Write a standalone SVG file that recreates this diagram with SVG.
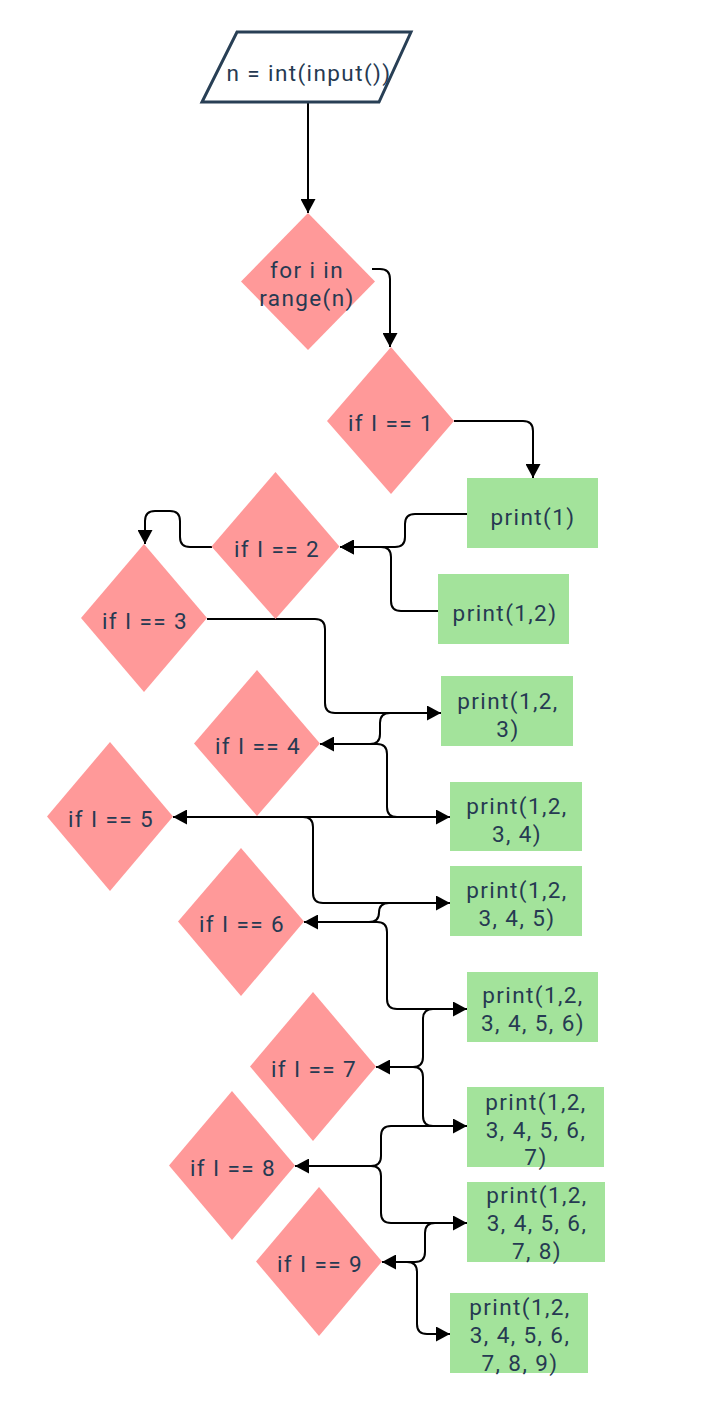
<svg xmlns="http://www.w3.org/2000/svg" width="714" height="1408" viewBox="0 0 714 1408">
  <style>
    .t { font-family: Roboto, "Liberation Sans", sans-serif; font-size: 22.5px; fill: #263a52; text-anchor: middle; letter-spacing: 1.4px; }
    .dia { fill: #ff9999; }
    .box { fill: #a3e39b; }
    .io { fill: #ffffff; stroke: #283f55; stroke-width: 3; stroke-linejoin: miter; }
    .c { fill: none; stroke: #000000; stroke-width: 2; marker-end: url(#arr); }
  </style>
  <defs>
    <marker id="arr" markerUnits="userSpaceOnUse" markerWidth="15" markerHeight="15" refX="14" refY="7.5" orient="auto">
      <path d="M0,0 L14,7.5 L0,15 Z" fill="#000000"/>
    </marker>
  </defs>
  <rect x="0" y="0" width="714" height="1408" fill="#ffffff"/>

  <g id="connectors">
    <path class="c" d="M308,103 V213"/>
    <path class="c" d="M372,269 H380 Q390,269 390,279 V347"/>
    <path class="c" d="M454,421 H523 Q533,421 533,431 V478"/>
    <path class="c" d="M467,514 H415 Q405,514 405,524 V537 Q405,547 395,547 H340"/>
    <path class="c" d="M438,611 H401 Q391,611 391,601 V557 Q391,547 381,547 H340"/>
    <path class="c" d="M212,547 H190 Q180,547 180,537 V521 Q180,511 170,511 H155 Q145,511 145,521 V544"/>
    <path class="c" d="M207,619 H315 Q325,619 325,629 V703 Q325,713 335,713 H441"/>
    <path class="c" d="M441,713 H390 Q380,713 380,723 V734 Q380,744 370,744 H320"/>
    <path class="c" d="M320,744 H377 Q387,744 387,754 V807 Q387,817 397,817 H450"/>
    <path class="c" d="M450,817 H173"/>
    <path class="c" d="M173,817 H303 Q313,817 313,827 V893 Q313,903 323,903 H450"/>
    <path class="c" d="M450,903 H389 Q379,903 379,912.5 Q379,922 369,922 H304"/>
    <path class="c" d="M304,922 H377 Q387,922 387,932 V999 Q387,1009 397,1009 H467"/>
    <path class="c" d="M467,1009 H433 Q423,1009 423,1019 V1057 Q423,1067 413,1067 H376"/>
    <path class="c" d="M376,1067 H413 Q423,1067 423,1077 V1116 Q423,1126 433,1126 H467"/>
    <path class="c" d="M467,1126 H391 Q381,1126 381,1136 V1156 Q381,1166 371,1166 H295"/>
    <path class="c" d="M295,1166 H371 Q381,1166 381,1176 V1213 Q381,1223 391,1223 H467"/>
    <path class="c" d="M467,1223 H435 Q425,1223 425,1233 V1252 Q425,1262 415,1262 H382"/>
    <path class="c" d="M382,1262 H407 Q417,1262 417,1272 V1324 Q417,1334 427,1334 H450"/>
  </g>

  <g id="input">
    <polygon class="io" points="237,32 411,32 379,102 202,102"/>
    <text class="t" x="309" y="81">n = int(input())</text>
  </g>

  <g id="for_loop">
    <polygon class="dia" points="308,213 375,281.5 308,350 241,281.5"/>
    <text class="t" x="307" y="278">for i in</text>
    <text class="t" x="307" y="306">range(n)</text>
  </g>

  <g id="if1">
    <polygon class="dia" points="391,347 454,421 391,494 327,421"/>
    <text class="t" x="391" y="431">if I == 1</text>
  </g>
  <g id="if2">
    <polygon class="dia" points="275.5,472 339.5,546.5 275.5,619 211.5,546.5"/>
    <text class="t" x="277" y="557">if I == 2</text>
  </g>
  <g id="if3">
    <polygon class="dia" points="144,544 207,618 144,692 81,618"/>
    <text class="t" x="145" y="629">if I == 3</text>
  </g>
  <g id="if4">
    <polygon class="dia" points="257,670 320,743.5 257,816 194,743.5"/>
    <text class="t" x="258" y="754">if I == 4</text>
  </g>
  <g id="if5">
    <polygon class="dia" points="110,742 173,816.5 110,891 47,816.5"/>
    <text class="t" x="111" y="827">if I == 5</text>
  </g>
  <g id="if6">
    <polygon class="dia" points="241,848 304,921.5 241,996 178,921.5"/>
    <text class="t" x="242" y="932">if I == 6</text>
  </g>
  <g id="if7">
    <polygon class="dia" points="313,992 376,1066.5 313,1141 250,1066.5"/>
    <text class="t" x="314" y="1077">if I == 7</text>
  </g>
  <g id="if8">
    <polygon class="dia" points="232,1091 295,1165.5 232,1240 169,1165.5"/>
    <text class="t" x="233" y="1176">if I == 8</text>
  </g>
  <g id="if9">
    <polygon class="dia" points="319,1187 382,1261.5 319,1336 256,1261.5"/>
    <text class="t" x="320" y="1272">if I == 9</text>
  </g>

  <g id="print1">
    <rect class="box" x="467" y="478" width="131" height="70"/>
    <text class="t" x="533" y="525">print(1)</text>
  </g>
  <g id="print2">
    <rect class="box" x="438" y="574" width="131" height="70"/>
    <text class="t" x="505" y="621">print(1,2)</text>
  </g>
  <g id="print3">
    <rect class="box" x="441" y="676" width="132" height="70"/>
    <text class="t" x="508" y="709">print(1,2,</text>
    <text class="t" x="508" y="737">3)</text>
  </g>
  <g id="print4">
    <rect class="box" x="450" y="782" width="132" height="69"/>
    <text class="t" x="517" y="814">print(1,2,</text>
    <text class="t" x="517" y="842">3, 4)</text>
  </g>
  <g id="print5">
    <rect class="box" x="450" y="866" width="132" height="70"/>
    <text class="t" x="517" y="898">print(1,2,</text>
    <text class="t" x="517" y="926">3, 4, 5)</text>
  </g>
  <g id="print6">
    <rect class="box" x="467" y="972" width="131" height="70"/>
    <text class="t" x="533" y="1003">print(1,2,</text>
    <text class="t" x="533" y="1031">3, 4, 5, 6)</text>
  </g>
  <g id="print7">
    <rect class="box" x="467" y="1087" width="137" height="80"/>
    <text class="t" x="536" y="1110">print(1,2,</text>
    <text class="t" x="536" y="1138">3, 4, 5, 6,</text>
    <text class="t" x="536" y="1165">7)</text>
  </g>
  <g id="print8">
    <rect class="box" x="467" y="1182" width="138" height="80"/>
    <text class="t" x="537" y="1203">print(1,2,</text>
    <text class="t" x="537" y="1231">3, 4, 5, 6,</text>
    <text class="t" x="537" y="1259">7, 8)</text>
  </g>
  <g id="print9">
    <rect class="box" x="450" y="1293" width="138" height="80"/>
    <text class="t" x="520" y="1315">print(1,2,</text>
    <text class="t" x="520" y="1343">3, 4, 5, 6,</text>
    <text class="t" x="520" y="1371">7, 8, 9)</text>
  </g>
</svg>
